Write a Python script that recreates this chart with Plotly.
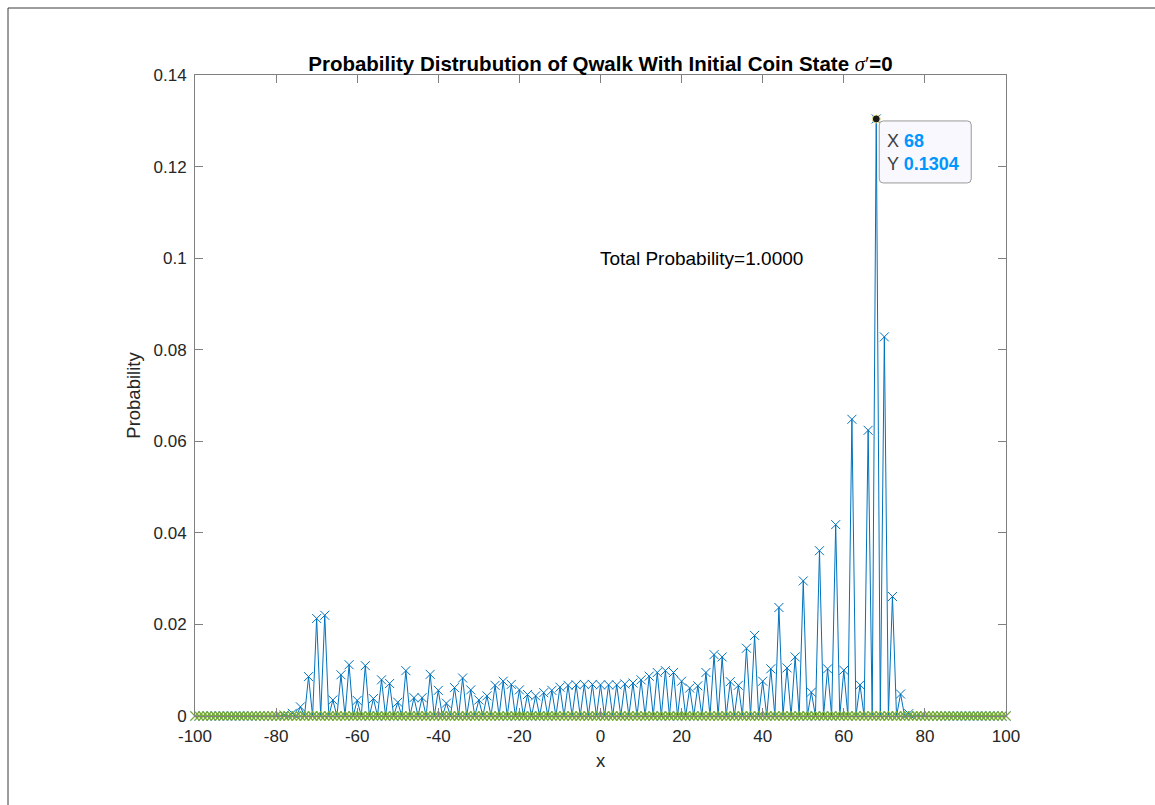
import plotly.graph_objects as go

# Walk probabilities on even lattice sites (odd sites are unreachable after an even number of steps)
even_sites = list(range(-100, 101, 2))
even_prob = [
    0, 0, 0, 0, 0, 0, 0, 0, 0, 0, 0,            # -100 .. -80
    0.0002, 0.0006, 0.0020, 0.0086, 0.0213,     # -78 .. -70
    0.0220, 0.0035, 0.0090, 0.0112, 0.0034,     # -68 .. -60
    0.0110, 0.0038, 0.0079, 0.0071, 0.0030,     # -58 .. -50
    0.0099, 0.0040, 0.0040, 0.0091, 0.0056,     # -48 .. -40
    0.0028, 0.0062, 0.0083, 0.0057, 0.0035,     # -38 .. -30
    0.0044, 0.0067, 0.0076, 0.0069, 0.0057,     # -28 .. -20
    0.0047, 0.0044, 0.0051, 0.0056, 0.0063,     # -18 .. -10
    0.0067, 0.0068, 0.0069, 0.0069,             # -8 .. -2
    0.0068,                                     # 0
    0.0068, 0.0068, 0.0070, 0.0072, 0.0079,     # 2 .. 10
    0.0087, 0.0095, 0.0099, 0.0095, 0.0076,     # 12 .. 20
    0.0061, 0.0066, 0.0095, 0.0134, 0.0129,     # 22 .. 30
    0.0075, 0.0067, 0.0148, 0.0176, 0.0076,     # 32 .. 40
    0.0103, 0.0237, 0.0105, 0.0129, 0.0295,     # 42 .. 50
    0.0052, 0.0361, 0.0103, 0.0418, 0.0100,     # 52 .. 60
    0.0648, 0.0068, 0.0624, 0.1304, 0.0828,     # 62 .. 70
    0.0261, 0.0048, 0.0005, 0.0001, 0,          # 72 .. 80
    0, 0, 0, 0, 0, 0, 0, 0, 0, 0,               # 82 .. 100
]

# Full lattice: every site from -100 to 100
sites = list(range(-100, 101))
even_lookup = dict(zip(even_sites, even_prob))
prob = [even_lookup.get(s, 0.0) for s in sites]
baseline = [0.0 for _ in sites]

peak_x = 68
peak_y = 0.1304
total_prob_label = "Total Probability=1.0000"

x_ticks = [-100, -80, -60, -40, -20, 0, 20, 40, 60, 80, 100]
x_tick_text = ["-100", "-80", "-60", "-40", "-20", "0", "20", "40", "60", "80", "100"]
y_ticks = [0, 0.02, 0.04, 0.06, 0.08, 0.1, 0.12, 0.14]
y_tick_text = ["0", "0.02", "0.04", "0.06", "0.08", "0.1", "0.12", "0.14"]

BLUE = "#0072BD"
GREEN = "#77AC30"
AXIS = "#262626"
FONT = "Liberation Sans, Arial, Helvetica, sans-serif"

fig = go.Figure()

fig.add_trace(go.Scatter(
    x=sites, y=prob, mode="lines+markers",
    line=dict(color=BLUE, width=1),
    marker=dict(symbol="x-thin", size=9, line=dict(color=BLUE, width=1)),
    showlegend=False, hoverinfo="x+y", cliponaxis=False,
))
fig.add_trace(go.Scatter(
    x=sites, y=baseline, mode="lines+markers",
    line=dict(color=GREEN, width=1.2),
    marker=dict(symbol="x-thin", size=9, line=dict(color=GREEN, width=1.2)),
    showlegend=False, hoverinfo="x+y", cliponaxis=False,
))
# Data-tip point
fig.add_trace(go.Scatter(
    x=[peak_x], y=[peak_y], mode="markers",
    marker=dict(symbol="circle", size=8, color="#1a1a1a",
                line=dict(color="#f3eda0", width=1)),
    showlegend=False, hoverinfo="skip", cliponaxis=False,
))

axis_common = dict(
    showgrid=False, zeroline=False, showline=True, linecolor="#808080",
    linewidth=1, mirror="ticks", ticks="inside", ticklen=8,
    tickcolor="#808080", tickwidth=1,
    tickfont=dict(family=FONT, size=17, color=AXIS),
)

fig.update_xaxes(
    range=[-100, 100], tickvals=x_ticks, ticktext=x_tick_text,
    ticklabelstandoff=5,
    title=dict(text="x", font=dict(family=FONT, size=18.5, color=AXIS), standoff=8),
    **axis_common,
)
fig.update_yaxes(
    range=[0, 0.14], tickvals=y_ticks, ticktext=y_tick_text,
    ticklabelstandoff=4,
    title=dict(text="Probability", font=dict(family=FONT, size=18.5, color=AXIS), standoff=8),
    **axis_common,
)

title_text = ("<b>Probability Distrubution of Qwalk With Initial Coin State </b>"
              "<span style=\"font-family:'Liberation Serif'\"><i>σ</i>′</span><b>=0</b>")

# Rounded data-tip box drawn in pixel offsets from the peak point
w, h, r = 92, 62, 4
x0, y0 = 3, -2
box_path = (
    f"M {x0 + r},{y0} L {x0 + w - r},{y0} Q {x0 + w},{y0} {x0 + w},{y0 - r} "
    f"L {x0 + w},{y0 - h + r} Q {x0 + w},{y0 - h} {x0 + w - r},{y0 - h} "
    f"L {x0 + r},{y0 - h} Q {x0},{y0 - h} {x0},{y0 - h + r} "
    f"L {x0},{y0 - r} Q {x0},{y0} {x0 + r},{y0} Z"
)

# Outer window frame: left and top edges
fl = (8 - 195) / 811
ft = (716 - 8) / 641
frame_path = f"M {fl},-0.3 L {fl},{ft} L 1.3,{ft}"

fig.update_layout(
    width=1155, height=805,
    margin=dict(l=195, r=149, t=75, b=89),
    paper_bgcolor="white", plot_bgcolor="white",
    font=dict(family=FONT, color=AXIS),
    title=dict(text=title_text, x=0.5, xref="paper", xanchor="center",
               y=1 - 64 / 805, yref="container", yanchor="middle",
               font=dict(family=FONT, size=20.5, color="black")),
    shapes=[
        dict(type="path", xref="paper", yref="paper", path=frame_path,
             line=dict(color="#3a3a3a", width=1), layer="below"),
        dict(type="path", xref="x", yref="y",
             xsizemode="pixel", ysizemode="pixel",
             xanchor=peak_x, yanchor=peak_y, path=box_path,
             line=dict(color="#9a9a9a", width=1), fillcolor="#F8F8FE"),
    ],
    annotations=[
        dict(x=0, y=0.1, xref="x", yref="y", text=total_prob_label,
             showarrow=False, xanchor="left", yanchor="middle", xshift=-3,
             font=dict(family=FONT, size=19, color="black")),
        dict(x=peak_x, y=peak_y, xref="x", yref="y",
             text=(f"<span style='color:#404040'>X </span><b><span style='color:#0096FF'>{peak_x}</span></b><br>"
                   f"<span style='color:#404040'>Y </span><b><span style='color:#0096FF'>{peak_y:.4f}</span></b>"),
             showarrow=False, xanchor="left", yanchor="top", align="left",
             xshift=9, yshift=-10,
             font=dict(family=FONT, size=18)),
    ],
)

fig.write_html("out.html")
